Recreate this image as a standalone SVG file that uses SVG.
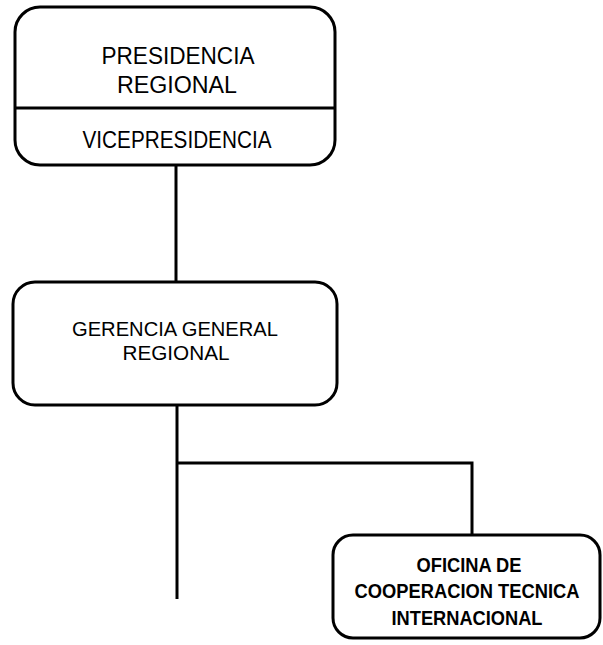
<svg xmlns="http://www.w3.org/2000/svg" width="603" height="645" viewBox="0 0 603 645">
<style>
.box{fill:#fff;stroke:#000;stroke-width:3}
.ln{stroke:#000;stroke-width:3;fill:none}
.t{font-family:"Liberation Sans",Arial,sans-serif;font-size:23px;fill:#000;text-anchor:middle}
.g{font-family:"Liberation Sans",Arial,sans-serif;font-size:21px;fill:#000;text-anchor:middle}
.b{font-family:"Liberation Sans",Arial,sans-serif;font-size:20px;font-weight:bold;fill:#000;text-anchor:middle}
</style>
<rect width="603" height="645" fill="#fff"/>
<g id="connectors">
<line class="ln" x1="176" y1="165" x2="176" y2="282"/>
<line class="ln" x1="177" y1="405" x2="177" y2="599"/>
<polyline class="ln" points="177,463 472,463 472,535"/>
</g>
<g id="presidencia">
<rect class="box" x="15" y="7" width="320" height="158" rx="25"/>
<line class="ln" x1="15" y1="108" x2="335" y2="108"/>
<text class="t" x="178" y="64" textLength="153" lengthAdjust="spacingAndGlyphs">PRESIDENCIA</text>
<text class="t" x="177" y="93" textLength="120" lengthAdjust="spacingAndGlyphs">REGIONAL</text>
<text class="t" x="177" y="148" textLength="189" lengthAdjust="spacingAndGlyphs">VICEPRESIDENCIA</text>
</g>
<g id="gerencia">
<rect class="box" x="13" y="282" width="324" height="123" rx="22"/>
<text class="g" x="175" y="336" textLength="206" lengthAdjust="spacingAndGlyphs">GERENCIA GENERAL</text>
<text class="g" x="176" y="360" textLength="107" lengthAdjust="spacingAndGlyphs">REGIONAL</text>
</g>
<g id="oficina">
<rect class="box" x="333" y="535" width="267" height="103" rx="20"/>
<text class="b" x="469" y="572" textLength="105" lengthAdjust="spacingAndGlyphs">OFICINA DE</text>
<text class="b" x="467" y="598" textLength="225" lengthAdjust="spacingAndGlyphs">COOPERACION TECNICA</text>
<text class="b" x="467" y="625" textLength="151" lengthAdjust="spacingAndGlyphs">INTERNACIONAL</text>
</g>
</svg>
